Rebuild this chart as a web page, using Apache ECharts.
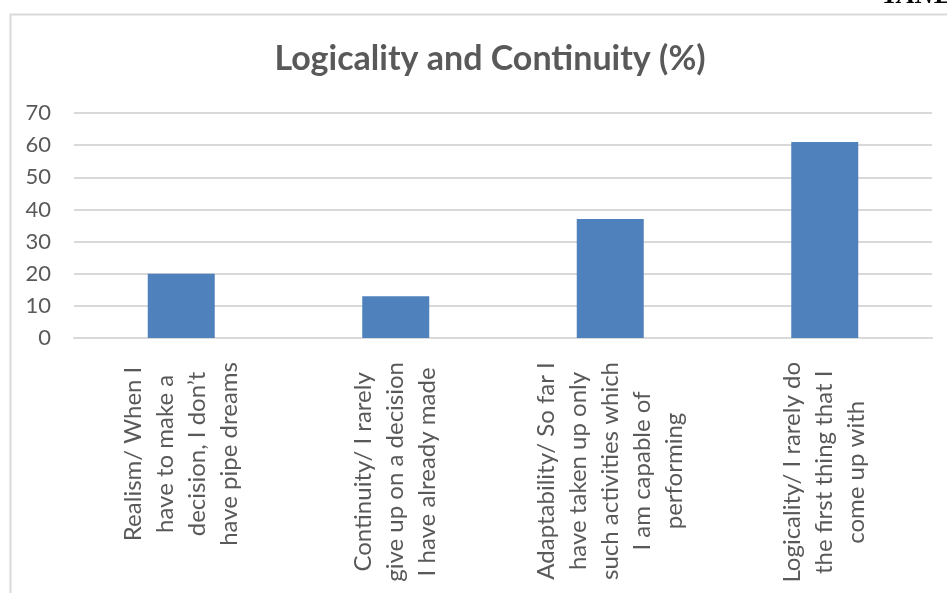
<!DOCTYPE html>
<html>
<head>
<meta charset="utf-8">
<style>
  html, body { margin: 0; padding: 0; background: #ffffff; }
  #chart { width: 947px; height: 593px; }
</style>
<script src="https://cdn.jsdelivr.net/npm/echarts@6/dist/echarts.min.js"></script>
</head>
<body>
<div id="chart"></div>
<script>
// Survey items, one entry per bar (line breaks as printed under the axis)
const categories = [
  "Realism/ When I\nhave to make a\ndecision, I don’t\nhave pipe dreams",
  "Continuity/ I rarely\ngive up on a decision\nI have already made",
  "Adaptability/ So far I\nhave taken up only\nsuch activities which\nI am capable of\nperforming",
  "Logicality/ I rarely do\nthe first thing that I\ncome up with"
];

// Share of respondents, in percent
const values = [20, 13, 37, 61];

// Value axis ticks
const yTicks = [0, 10, 20, 30, 40, 50, 60, 70];

const chartTitle = "Logicality and Continuity (%)";
const cornerText = "TANL";

const FONT = "Lato, 'Open Sans', sans-serif";
const TEXT_GREY = "#595959";
const GRID_GREY = "#d9d9d9";

const chart = echarts.init(document.getElementById("chart"), null, { renderer: "canvas" });

chart.setOption({
  backgroundColor: "#ffffff",
  animation: false,
  title: {
    text: chartTitle,
    left: 485,
    textAlign: "center",
    top: 37,
    textStyle: {
      fontFamily: FONT,
      fontWeight: "bold",
      fontSize: 34,
      color: TEXT_GREY
    }
  },
  graphic: [
    {
      // chart area frame (left and top edges visible)
      type: "rect",
      silent: true,
      shape: { x: 10.5, y: 14.5, width: 1200, height: 900 },
      style: { fill: null, stroke: GRID_GREY, lineWidth: 2 }
    },
    {
      // running header above the frame, cut by the page edge
      type: "text",
      silent: true,
      x: 882,
      y: -17,
      style: {
        text: cornerText,
        font: "italic bold 27px 'Liberation Serif', serif",
        fill: "#000000",
        align: "left",
        verticalAlign: "top"
      }
    }
  ],
  grid: {
    left: 74,
    right: 15,
    top: 113,
    bottom: 255,
    containLabel: false
  },
  xAxis: {
    type: "category",
    data: categories,
    axisLine: { show: true, lineStyle: { color: GRID_GREY, width: 2 } },
    axisTick: { show: false },
    axisLabel: {
      rotate: 90,
      interval: 0,
      margin: 24,
      fontFamily: FONT,
      fontSize: 24,
      lineHeight: 32,
      color: TEXT_GREY,
      formatter: function (v) {
        return v.split("\n").map(function (s) { return "{c|" + s + "}"; }).join("\n");
      },
      rich: {
        c: {
          align: "center",
          fontFamily: FONT,
          fontSize: 24,
          lineHeight: 32,
          color: TEXT_GREY
        }
      }
    }
  },
  yAxis: {
    type: "value",
    min: yTicks[0],
    max: yTicks[yTicks.length - 1],
    interval: yTicks[1] - yTicks[0],
    axisLine: { show: false },
    axisTick: { show: false },
    splitLine: { show: true, lineStyle: { color: GRID_GREY, width: 2 } },
    axisLabel: {
      margin: 23,
      fontFamily: FONT,
      fontSize: 22,
      color: TEXT_GREY
    }
  },
  series: [
    {
      type: "bar",
      data: values,
      barWidth: 67,
      itemStyle: { color: "#4f81bd" }
    }
  ]
});
</script>
</body>
</html>
